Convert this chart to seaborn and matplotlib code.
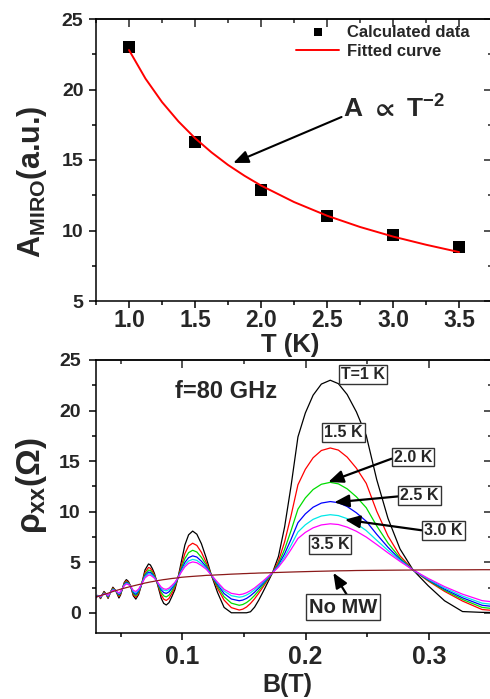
import matplotlib
matplotlib.use("Agg")
import matplotlib.pyplot as plt
import seaborn as sns
import pandas as pd
from matplotlib.ticker import MultipleLocator, FormatStrFormatter

# ---------------- data: top panel ----------------
temperature = [1.0, 1.5, 2.0, 2.5, 3.0, 3.5]
amplitude = [23.0, 16.3, 12.9, 11.0, 9.7, 8.8]
fit_T = [1.0, 1.125, 1.25, 1.375, 1.5, 1.625, 1.75, 1.875, 2.0, 2.25, 2.5, 2.75, 3.0, 3.25, 3.5]
fit_A = [22.8, 20.77, 19.11, 17.73, 16.55, 15.54, 14.65, 13.88, 13.19, 12.02, 11.05, 10.25, 9.57, 8.99, 8.47]
top_xticks = [1.0, 1.5, 2.0, 2.5, 3.0, 3.5]
top_yticks = [5, 10, 15, 20, 25]

# ---------------- data: bottom panel ----------------
B_field = [0.0292, 0.0302, 0.0313, 0.0324, 0.0337, 0.0350, 0.0365, 0.0381, 0.0398, 0.0417, 0.0437, 0.0460, 0.0486,
           0.0499, 0.0514, 0.0529, 0.0546, 0.0563, 0.0582, 0.0602, 0.0623, 0.0646, 0.0671, 0.0697,
           0.0726, 0.0741, 0.0757, 0.0774, 0.0791, 0.0810, 0.0829, 0.0849, 0.0870, 0.0892, 0.0915, 0.0939,
           0.0965, 0.0992, 0.1021, 0.1051, 0.1084, 0.1118, 0.1155, 0.1194, 0.1236, 0.1286, 0.1339, 0.1398,
           0.1462, 0.1491, 0.1521, 0.1553, 0.1586, 0.1620, 0.1656, 0.1693, 0.1732, 0.1780, 0.1830, 0.1882,
           0.1938, 0.1998, 0.2061, 0.2128, 0.2200, 0.2266, 0.2337, 0.2412, 0.2492, 0.2577, 0.2668, 0.2766,
           0.2872, 0.2994, 0.3127, 0.3273, 0.3432, 0.3608]
rho_no_mw = [1.52, 1.56, 1.60, 1.65, 1.70, 1.75, 1.81, 1.87, 1.94, 2.02, 2.10, 2.19, 2.28,
             2.33, 2.38, 2.43, 2.49, 2.54, 2.60, 2.66, 2.72, 2.79, 2.86, 2.94,
             3.01, 3.05, 3.08, 3.12, 3.16, 3.20, 3.24, 3.28, 3.31, 3.35, 3.39, 3.42,
             3.46, 3.51, 3.54, 3.57, 3.60, 3.63, 3.66, 3.70, 3.72, 3.75, 3.78, 3.82,
             3.85, 3.87, 3.88, 3.90, 3.91, 3.93, 3.94, 3.95, 3.97, 3.99, 4.01, 4.03,
             4.05, 4.07, 4.09, 4.11, 4.13, 4.15, 4.16, 4.18, 4.19, 4.20, 4.21, 4.22,
             4.23, 4.24, 4.25, 4.25, 4.26, 4.26]
rho_1p0K = [1.37, 1.56, 1.72, 1.65, 1.40, 1.75, 2.11, 1.87, 1.42, 2.02, 2.53, 2.19, 1.46,
            1.75, 2.38, 2.99, 3.28, 3.10, 2.60, 1.69, 1.35, 1.82, 2.86, 4.23,
            4.83, 4.73, 4.37, 3.89, 3.16, 2.30, 1.44, 0.93, 0.77, 1.00, 1.59, 2.26,
            3.46, 5.04, 6.71, 7.71, 8.08, 7.77, 6.83, 5.43, 3.72, 2.00, 0.53, 0.0,
            0.0, 0.0, 0.0, 0.1, 0.55, 1.25, 2.1, 3.0, 3.97, 5.58, 8.50, 12.53,
            17.39, 19.76, 21.52, 22.62, 23.00, 22.66, 21.59, 19.87, 17.53, 13.17, 9.35, 6.31,
            4.23, 2.68, 1.19, 0.12, 0.04, 0.02]
rho_1p5K = [1.40, 1.56, 1.70, 1.65, 1.45, 1.75, 2.03, 1.87, 1.49, 2.02, 2.45, 2.19, 1.60,
            1.85, 2.38, 2.91, 3.17, 3.02, 2.60, 1.81, 1.52, 1.94, 2.86, 3.98,
            4.48, 4.41, 4.12, 3.74, 3.16, 2.46, 1.76, 1.35, 1.22, 1.42, 1.91, 2.51,
            3.46, 4.65, 5.86, 6.60, 6.88, 6.66, 5.98, 4.98, 3.72, 2.41, 1.25, 0.51,
            0.27, 0.36, 0.57, 0.92, 1.38, 1.94, 2.57, 3.25, 3.97, 5.11, 7.02, 9.60,
            12.66, 14.19, 15.33, 16.05, 16.30, 16.09, 15.40, 14.30, 12.80, 10.04, 7.60, 5.63,
            4.23, 3.15, 2.12, 1.16, 0.32, 0.15]
rho_2p0K = [1.42, 1.56, 1.68, 1.65, 1.50, 1.75, 1.97, 1.87, 1.56, 2.02, 2.38, 2.19, 1.71,
            1.93, 2.38, 2.84, 3.07, 2.95, 2.60, 1.92, 1.67, 2.05, 2.86, 3.80,
            4.23, 4.18, 3.94, 3.64, 3.16, 2.58, 2.01, 1.67, 1.57, 1.74, 2.16, 2.67,
            3.46, 4.42, 5.36, 5.95, 6.18, 6.01, 5.48, 4.74, 3.72, 2.61, 1.58, 0.95,
            0.74, 0.82, 1.01, 1.31, 1.71, 2.20, 2.75, 3.34, 3.97, 4.87, 6.28, 8.12,
            10.25, 11.36, 12.19, 12.71, 12.90, 12.75, 12.26, 11.47, 10.39, 8.59, 6.90, 5.42,
            4.23, 3.21, 2.23, 1.32, 0.53, 0.30]
rho_2p5K = [1.44, 1.56, 1.66, 1.65, 1.54, 1.75, 1.92, 1.87, 1.62, 2.02, 2.32, 2.19, 1.80,
            1.99, 2.38, 2.78, 2.99, 2.89, 2.60, 2.02, 1.82, 2.15, 2.86, 3.66,
            4.03, 3.99, 3.80, 3.54, 3.16, 2.70, 2.26, 2.00, 1.92, 2.07, 2.41, 2.83,
            3.46, 4.23, 4.98, 5.45, 5.63, 5.51, 5.10, 4.54, 3.72, 2.79, 1.90, 1.36,
            1.19, 1.26, 1.42, 1.69, 2.03, 2.45, 2.92, 3.43, 3.97, 4.71, 5.84, 7.26,
            8.91, 9.78, 10.44, 10.85, 11.00, 10.89, 10.51, 9.89, 9.05, 7.76, 6.48, 5.28,
            4.23, 3.27, 2.34, 1.48, 0.74, 0.50]
rho_3p0K = [1.46, 1.56, 1.64, 1.65, 1.57, 1.75, 1.88, 1.87, 1.67, 2.02, 2.27, 2.19, 1.88,
            2.05, 2.38, 2.73, 2.91, 2.84, 2.60, 2.13, 1.97, 2.26, 2.86, 3.56,
            3.88, 3.85, 3.70, 3.48, 3.16, 2.79, 2.43, 2.23, 2.17, 2.30, 2.58, 2.93,
            3.46, 4.10, 4.73, 5.12, 5.28, 5.18, 4.85, 4.40, 3.72, 2.93, 2.15, 1.69,
            1.54, 1.60, 1.75, 1.98, 2.28, 2.65, 3.06, 3.50, 3.97, 4.60, 5.52, 6.67,
            7.99, 8.70, 9.24, 9.57, 9.70, 9.61, 9.31, 8.81, 8.13, 7.17, 6.17, 5.18,
            4.23, 3.33, 2.46, 1.65, 0.95, 0.70]
rho_3p5K = [1.47, 1.56, 1.62, 1.65, 1.60, 1.75, 1.85, 1.87, 1.71, 2.02, 2.23, 2.19, 1.95,
            2.10, 2.38, 2.68, 2.85, 2.79, 2.60, 2.22, 2.10, 2.35, 2.86, 3.45,
            3.73, 3.72, 3.59, 3.42, 3.16, 2.85, 2.54, 2.37, 2.32, 2.44, 2.69, 3.00,
            3.46, 4.02, 4.55, 4.89, 5.03, 4.95, 4.67, 4.31, 3.72, 3.02, 2.32, 1.92,
            1.79, 1.85, 1.98, 2.19, 2.45, 2.79, 3.15, 3.55, 3.97, 4.52, 5.30, 6.26,
            7.35, 7.95, 8.40, 8.69, 8.80, 8.73, 8.47, 8.06, 7.49, 6.75, 5.93, 5.08,
            4.23, 3.40, 2.59, 1.84, 1.20, 0.95]
curve_names = ["T=1 K", "1.5 K", "2.0 K", "2.5 K", "3.0 K", "3.5 K", "No MW"]
curve_colors = ["#000000", "#FF0000", "#00DD00", "#0000FF", "#00E8E8", "#FF00FF", "#8B1A1A"]
bottom_xticks = [0.1, 0.2, 0.3]
bottom_yticks = [0, 5, 10, 15, 20, 25]

# ---------------- style ----------------
sns.set_theme(style="ticks")
plt.rcParams["font.family"] = ["Liberation Sans", "DejaVu Sans"]
plt.rcParams["font.weight"] = "bold"
plt.rcParams["mathtext.fontset"] = "custom"
plt.rcParams["mathtext.rm"] = "Liberation Sans:bold"
plt.rcParams["mathtext.bf"] = "Liberation Sans:bold"
plt.rcParams["mathtext.it"] = "Liberation Sans:bold"
plt.rcParams["mathtext.sf"] = "Liberation Sans:bold"
plt.rcParams["mathtext.fallback"] = "stixsans"
plt.rcParams["axes.linewidth"] = 1.1

fig = plt.figure(figsize=(4.9, 6.99), dpi=100)
W, H = 490.0, 699.0
ax1 = fig.add_axes([96 / W, (H - 301) / H, 395.5 / W, 282 / H])
ax2 = fig.add_axes([96 / W, (H - 633) / H, 395.5 / W, 273 / H])


def style_axes(ax, xmaj, xmin, ymaj, ymin, xfmt, xsize, ysize, xpad, ypad):
    ax.set_xticks(xmaj)
    ax.set_yticks(ymaj)
    ax.xaxis.set_minor_locator(MultipleLocator(xmin))
    ax.yaxis.set_minor_locator(MultipleLocator(ymin))
    ax.xaxis.set_major_formatter(FormatStrFormatter(xfmt))
    ax.yaxis.set_major_formatter(FormatStrFormatter("%d"))
    ax.tick_params(which="both", direction="out", width=1.1, color="black")
    ax.tick_params(which="major", length=5)
    ax.tick_params(which="minor", length=3)
    ax.tick_params(axis="x", labelsize=xsize, pad=xpad)
    ax.tick_params(axis="y", labelsize=ysize, pad=ypad)
    for s in ax.spines.values():
        s.set_color("black")
        s.set_linewidth(1.1)
    sx = ax.secondary_xaxis("top")
    sx.set_xticks(xmaj)
    sx.xaxis.set_minor_locator(MultipleLocator(xmin))
    sx.tick_params(which="both", direction="in", labeltop=False, width=1.1)
    sx.tick_params(which="major", length=6)
    sx.tick_params(which="minor", length=3)
    sx.spines["top"].set_linewidth(1.1)
    sy = ax.secondary_yaxis("right")
    sy.set_yticks(ymaj)
    sy.yaxis.set_minor_locator(MultipleLocator(ymin))
    sy.tick_params(which="both", direction="in", labelright=False, width=1.1)
    sy.tick_params(which="major", length=6)
    sy.tick_params(which="minor", length=3)


# ---------------- top panel ----------------
sns.scatterplot(x=temperature, y=amplitude, marker="s", s=64, color="black",
                edgecolor="black", linewidth=0, ax=ax1, label="Calculated data", zorder=3)
sns.lineplot(x=fit_T, y=fit_A, color="#FF0000", linewidth=1.4, ax=ax1,
             label="Fitted curve", zorder=4)
ax1.set_xlim(0.75, 3.746)
ax1.set_ylim(5, 25)
style_axes(ax1, top_xticks, 0.25, top_yticks, 2.5, "%.1f", 16.5, 14, 0.8, 4.0)
ax1.set_xlabel("T (K)", fontsize=18.5, fontweight="bold")
ax1.xaxis.set_label_coords(0.49, -0.112)
ax1.set_ylabel("A$_{MIRO}$(a.u.)", fontsize=22, fontweight="bold")
ax1.yaxis.set_label_coords(-0.119, 0.422)
h, l = ax1.get_legend_handles_labels()
ax1.legend(h, l, loc="upper left", bbox_to_anchor=(0.506, 0.98), frameon=False,
           borderpad=0, borderaxespad=0, handlelength=2.6, handletextpad=0.45,
           labelspacing=0.28, markerscale=0.75, prop={"size": 12, "weight": "bold"})
ax1.text(2.62, 18.0, r"A $\propto$ T$^{-2}$", fontsize=19, fontweight="bold",
         ha="left", va="baseline")
ax1.annotate("", xy=(1.79, 14.79), xytext=(2.61, 18.05),
             arrowprops=dict(arrowstyle="-|>,head_length=0.9,head_width=0.38",
                             lw=1.5, color="black", shrinkA=0, shrinkB=0,
                             mutation_scale=10))

# ---------------- bottom panel ----------------
series = [rho_1p0K, rho_1p5K, rho_2p0K, rho_2p5K, rho_3p0K, rho_3p5K, rho_no_mw]
frames = [pd.DataFrame({"B": B_field, "rho": vals, "curve": name})
          for name, vals in zip(curve_names, series)]
df = pd.concat(frames, ignore_index=True)
sns.lineplot(data=df, x="B", y="rho", hue="curve", hue_order=curve_names,
             palette=dict(zip(curve_names, curve_colors)), linewidth=0.9,
             legend=False, errorbar=None, ax=ax2)
ax2.set_xlim(0.03, 0.3508)
ax2.set_ylim(-2, 25)
style_axes(ax2, bottom_xticks, 0.05, bottom_yticks, 2.5, "%.1f", 17.8, 14, 3.7, 6.0)
ax2.set_xlabel("B(T)", fontsize=18, fontweight="bold")
ax2.xaxis.set_label_coords(0.485, -0.145)
ax2.set_ylabel("\u03c1$_{xx}$(\u03a9)", fontsize=24, fontweight="bold")
ax2.yaxis.set_label_coords(-0.118, 0.542)

ax2.text(0.094, 21.2, "f=80 GHz", fontsize=17, fontweight="bold", ha="left", va="baseline")

box = dict(boxstyle="square,pad=0.12", fc="white", ec="#333333", lw=1.0)
labels_pos = [("T=1 K", 0.2466, 23.6, 11.5), ("1.5 K", 0.2306, 17.8, 11.5),
              ("2.0 K", 0.2873, 15.4, 11.5), ("2.5 K", 0.2924, 11.6, 11.5),
              ("3.0 K", 0.3120, 8.14, 11.5), ("3.5 K", 0.2200, 6.74, 11.5)]
for txt, x, y, fs in labels_pos:
    ax2.text(x, y, txt, fontsize=fs, fontweight="bold", ha="center", va="center",
             bbox=box, zorder=6)
ax2.text(0.2303, 0.57, "No MW", fontsize=14.5, fontweight="bold", ha="center", va="center",
         bbox=dict(boxstyle="square,pad=0.15", fc="white", ec="#333333", lw=1.0), zorder=6)

arrows = [((0.2698, 15.24), (0.2184, 12.93)), ((0.2752, 11.51), (0.2232, 10.92)),
          ((0.2941, 8.16), (0.2319, 9.21)), ((0.2333, 1.81), (0.2225, 3.95))]
for start, head in arrows:
    ax2.annotate("", xy=head, xytext=start,
                 arrowprops=dict(arrowstyle="-|>,head_length=0.9,head_width=0.38",
                                 lw=1.6, color="black", shrinkA=0, shrinkB=0,
                                 mutation_scale=10), zorder=5)

fig.savefig("out.png", dpi=100)
